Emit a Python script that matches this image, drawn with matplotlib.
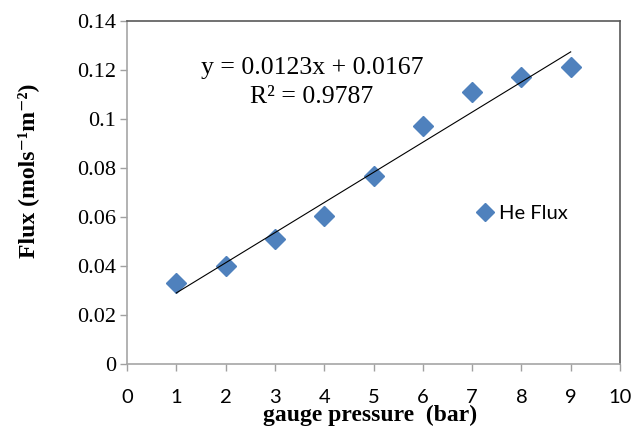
import numpy as np
import matplotlib
matplotlib.use("Agg")
import matplotlib.pyplot as plt

# gauge pressure (bar) and measured He flux
pressure = [1, 2, 3, 4, 5, 6, 7, 8, 9]
he_flux = [0.033, 0.040, 0.051, 0.0605, 0.0767, 0.097, 0.111, 0.117, 0.1212]

# linear trendline as reported on the chart
slope = 0.0123
intercept = 0.0167
r_squared = 0.9787

x_ticks = list(range(0, 11))
y_ticks = [0, 0.02, 0.04, 0.06, 0.08, 0.1, 0.12, 0.14]
y_tick_labels = ['0', '0.02', '0.04', '0.06', '0.08', '0.1', '0.12', '0.14']

fig = plt.figure(figsize=(6.37, 4.32), dpi=100)
ax = fig.add_axes([127 / 637, 1 - 364 / 432, (620 - 127) / 637, (364 - 21) / 432])

ax.plot(pressure, he_flux, linestyle='none', marker='D', markersize=10.5,
        color='#4F81BD', label='He Flux', zorder=2)

# trendline over the data range
fit_x = np.array([pressure[0], pressure[-1]])
ax.plot(fit_x, slope * fit_x + intercept, color='black', linewidth=0.8, zorder=3)

ax.set_xlim(0, 10)
ax.set_ylim(0, 0.14)
ax.set_xticks(x_ticks)
ax.set_yticks(y_ticks)
ax.set_yticklabels(y_tick_labels)

for lbl in ax.get_xticklabels():
    lbl.set_fontfamily('Lato')
    lbl.set_fontsize(14.5)
for lbl in ax.get_yticklabels():
    lbl.set_fontfamily('Liberation Serif')
    lbl.set_fontsize(16)

ax.tick_params(axis='both', direction='out', length=5, width=1, color='#a0a0a0')
ax.tick_params(axis='x', pad=13)
ax.tick_params(axis='y', pad=3)

ax.spines['left'].set_color('#a6a6a6')
ax.spines['bottom'].set_color('#a6a6a6')
ax.spines['top'].set_color('#595959')
ax.spines['right'].set_color('#595959')
for s in ax.spines.values():
    s.set_linewidth(1.2)

ax.text(0.375, 0.863, f'y = {slope}x + {intercept}', transform=ax.transAxes,
        ha='center', va='center', fontsize=18.5, family='Liberation Serif')
ax.text(0.375, 0.778, f'R² = {r_squared}', transform=ax.transAxes,
        ha='center', va='center', fontsize=18.5, family='Liberation Serif')

ax.set_xlabel('gauge pressure  (bar)', fontsize=17, fontweight='bold',
              family='Liberation Serif')
ax.xaxis.set_label_coords((370 - 127) / 493, -(405 - 364) / 343)
ax.set_ylabel('Flux (mols⁻¹m⁻²)', fontsize=17, fontweight='bold',
              family=['Liberation Serif', 'DejaVu Serif'])
ax.yaxis.set_label_coords(-(127 - 39) / 493, (364 - 171) / 343)

leg = ax.legend(loc='center left', bbox_to_anchor=(0.665, 0.44), frameon=False,
                prop={'family': 'Lato', 'size': 14.5}, handletextpad=0.1,
                handlelength=1.2, markerscale=0.85)

fig.savefig('out.png', dpi=100)
